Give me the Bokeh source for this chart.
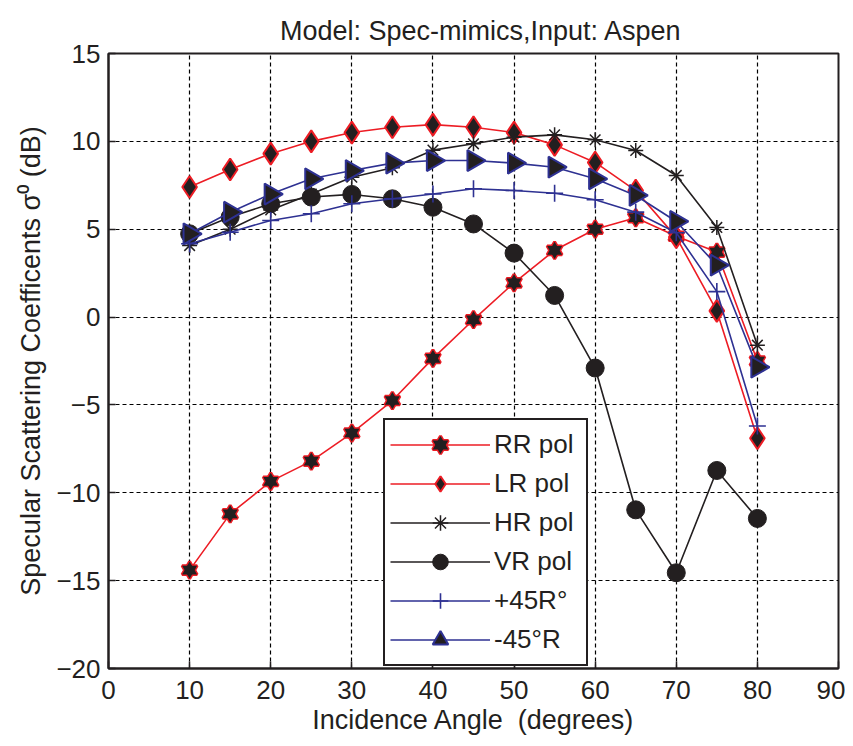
import numpy as np
from bokeh.plotting import figure
from bokeh.models import FixedTicker, Legend, LegendItem
from bokeh.embed import file_html
from bokeh.resources import INLINE

angles = [10, 15, 20, 25, 30, 35, 40, 45, 50, 55, 60, 65, 70, 75, 80]
rr_pol = [-14.4, -11.2, -9.35, -8.2, -6.6, -4.75, -2.35, -0.15, 1.95, 3.8, 5.0, 5.65, 4.6, 3.7, -2.5]
lr_pol = [7.4, 8.4, 9.3, 10.0, 10.5, 10.8, 10.95, 10.8, 10.5, 9.8, 8.8, 7.2, 4.55, 0.35, -6.9]
hr_pol = [4.07, 5.0, 6.1, 7.0, 7.96, 8.5, 9.5, 9.86, 10.24, 10.37, 10.09, 9.48, 8.06, 5.1, -1.6]
vr_pol = [4.74, 5.69, 6.45, 6.83, 6.98, 6.73, 6.25, 5.3, 3.64, 1.23, -2.9, -10.97, -14.55, -8.73, -11.46]
p45_pol = [4.17, 4.83, 5.5, 5.88, 6.45, 6.73, 7.0, 7.3, 7.2, 7.05, 6.68, 5.97, 4.8, 1.45, -6.2]
m45_pol = [4.74, 5.97, 7.0, 7.87, 8.34, 8.76, 8.91, 8.91, 8.76, 8.53, 7.87, 6.92, 5.44, 2.95, -2.85]

labels = ["RR pol", "LR pol", "HR pol", "VR pol", "+45R\u00b0", "-45\u00b0R"]
x_ticks = [0, 10, 20, 30, 40, 50, 60, 70, 80, 90]
y_ticks = [-20, -15, -10, -5, 0, 5, 10, 15]

RED = "#ED1C24"
BLK = "#231F20"
BLUE = "#2E3192"
FONT = "Liberation Sans"

p = figure(width=845, height=738, x_range=(0, 90), y_range=(-20, 15),
           output_backend="svg", toolbar_location=None,
           title="\u00a0\u00a0Model: Spec-mimics,Input: Aspen",
           min_border_left=108, min_border_right=7, min_border_top=53, min_border_bottom=70)

p.title.align = "center"
p.title.text_font = FONT
p.title.text_font_size = "27px"
p.title.text_font_style = "normal"
p.title.text_color = BLK
p.title.standoff = 16

p.outline_line_color = BLK
p.outline_line_width = 2
p.outline_line_alpha = 1

for ax in (p.xaxis[0], p.yaxis[0]):
    ax.axis_line_width = 2
    ax.axis_line_color = BLK
    ax.major_tick_in = 7
    ax.major_tick_out = 0
    ax.major_tick_line_width = 1.5
    ax.major_tick_line_color = BLK
    ax.minor_tick_line_color = None
    ax.major_label_text_font = FONT
    ax.major_label_text_font_size = "26px"
    ax.major_label_text_color = BLK
    ax.axis_label_text_font = FONT
    ax.axis_label_text_font_size = "27px"
    ax.axis_label_text_font_style = "normal"
    ax.axis_label_text_color = BLK

p.xaxis.ticker = FixedTicker(ticks=x_ticks)
p.yaxis.ticker = FixedTicker(ticks=y_ticks)
p.xaxis.axis_label = "Incidence Angle \u00a0(degrees)"
p.yaxis.axis_label = "Specular Scattering Coefficents \u03c3\u2070 (dB)"
p.xaxis.major_label_standoff = 12
p.yaxis.major_label_standoff = 8
p.xaxis.axis_label_standoff = 3
p.yaxis.axis_label_standoff = 7

for g in (p.xgrid[0], p.ygrid[0]):
    g.grid_line_color = "black"
    g.grid_line_dash = "4 3"
    g.grid_line_width = 1.2
    g.grid_line_alpha = 1

# RR pol: hexagram from two triangles
r_rr_line = p.line(angles, rr_pol, line_color=RED, line_width=1.6)
r_rr_t1 = p.scatter(angles, rr_pol, marker="triangle", size=15, fill_color=BLK, line_color=RED, line_width=3)
r_rr_t2 = p.scatter(angles, rr_pol, marker="inverted_triangle", size=15, fill_color=BLK, line_color=RED, line_width=3)
r_rr_f1 = p.scatter(angles, rr_pol, marker="triangle", size=15, fill_color=BLK, line_alpha=0)
r_rr_f2 = p.scatter(angles, rr_pol, marker="inverted_triangle", size=15, fill_color=BLK, line_alpha=0)

r_lr_line = p.line(angles, lr_pol, line_color=RED, line_width=1.6)
r_lr_m = p.scatter(angles, lr_pol, marker="diamond", size=22, fill_color=BLK, line_color=RED, line_width=2)

r_hr_line = p.line(angles, hr_pol, line_color=BLK, line_width=1.6)
r_hr_m = p.scatter(angles, hr_pol, marker="asterisk", size=15, line_color=BLK, line_width=1.5)

r_vr_line = p.line(angles, vr_pol, line_color=BLK, line_width=1.6)
r_vr_m = p.scatter(angles, vr_pol, marker="circle", size=18, fill_color=BLK, line_color=BLK, line_width=1)

r_p45_line = p.line(angles, p45_pol, line_color=BLUE, line_width=1.6)
r_p45_m = p.scatter(angles, p45_pol, marker="cross", size=17, line_color=BLUE, line_width=1.6)

r_m45_line = p.line(angles, m45_pol, line_color=BLUE, line_width=1.6)
r_m45_m = p.scatter(angles, m45_pol, marker="triangle", size=21, angle=-np.pi / 2,
                    fill_color=BLK, line_color=BLUE, line_width=2)

items = [
    LegendItem(label=labels[0], renderers=[r_rr_line, r_rr_t1, r_rr_t2, r_rr_f1, r_rr_f2]),
    LegendItem(label=labels[1], renderers=[r_lr_line, r_lr_m]),
    LegendItem(label=labels[2], renderers=[r_hr_line, r_hr_m]),
    LegendItem(label=labels[3], renderers=[r_vr_line, r_vr_m]),
    LegendItem(label=labels[4], renderers=[r_p45_line, r_p45_m]),
    LegendItem(label=labels[5], renderers=[r_m45_line, r_m45_m]),
]
legend = Legend(items=items, location=(275, 2))
legend.border_line_color = BLK
legend.border_line_width = 2
legend.border_line_alpha = 1
legend.background_fill_color = "white"
legend.background_fill_alpha = 1
legend.label_text_font = FONT
legend.label_text_font_size = "26px"
legend.label_text_color = BLK
legend.glyph_width = 100
legend.glyph_height = 39
legend.label_height = 39
legend.label_width = 87
legend.spacing = 0
legend.padding = 5
legend.margin = 0
legend.label_standoff = 4
p.add_layout(legend)

open("out.html", "w").write(file_html(p, INLINE))
